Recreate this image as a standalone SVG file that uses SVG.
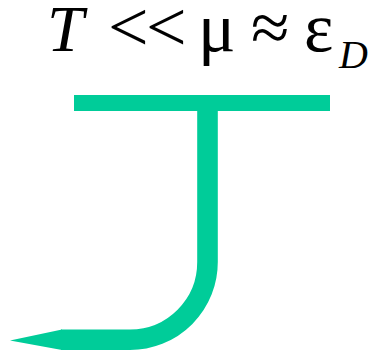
<svg xmlns="http://www.w3.org/2000/svg" width="368" height="354" viewBox="0 0 368 354">
<style>
.lbl{font-family:"Liberation Serif","Times New Roman",serif;fill:#000}
.it{font-style:italic}
.g{fill:#00CC99}
.conn{fill:none;stroke:#00CC99;stroke-width:20.6}
</style>
<rect width="368" height="354" fill="#fff"/>
<g id="label">
<text class="lbl" font-size="66" y="50.5"><tspan class="it" x="47">T</tspan><tspan x="108" font-size="72">&lt;</tspan><tspan x="146" font-size="72">&lt;</tspan><tspan x="198" font-size="70">μ</tspan><tspan x="251" font-size="70">≈</tspan><tspan x="304" font-size="70">ε</tspan></text>
<text class="lbl it" font-size="40" x="339" y="68">D</text>
</g>
<g id="bar">
<rect class="g" x="74" y="95" width="256" height="16"/>
</g>
<g id="connectors">
<path class="conn" d="M207.5,110 V262 A77.5,77.5 0 0 1 130,339.7 H61"/>
<polygon class="g" points="62,329.4 62,350 10,340.5"/>
</g>
</svg>
